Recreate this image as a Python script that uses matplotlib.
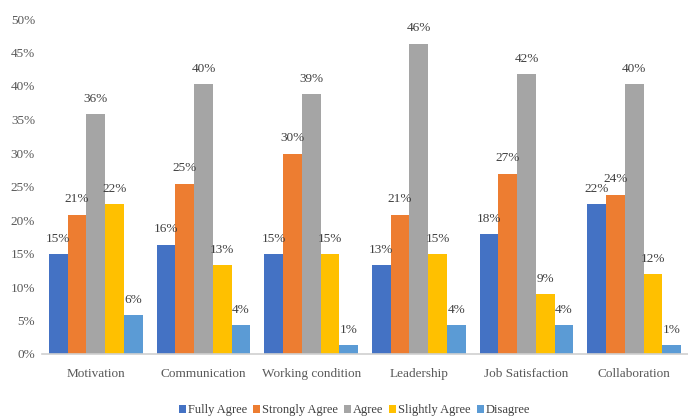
import numpy as np
import matplotlib
matplotlib.use("Agg")
import matplotlib.pyplot as plt

categories = ["Motivation", "Communication", "Working condition",
              "Leadership", "Job Satisfaction", "Collaboration"]
series = ["Fully Agree", "Strongly Agree", "Agree", "Slightly Agree", "Disagree"]

# percentages
fully_agree = [14.9, 16.3, 14.9, 13.3, 17.9, 22.4]
strongly_agree = [20.8, 25.4, 29.9, 20.8, 26.9, 23.8]
agree = [35.8, 40.3, 38.8, 46.3, 41.8, 40.3]
slightly_agree = [22.4, 13.3, 14.9, 14.9, 8.9, 11.9]
disagree = [5.8, 4.3, 1.3, 4.3, 4.3, 1.3]

values = [fully_agree, strongly_agree, agree, slightly_agree, disagree]
colors = ["#4472C4", "#ED7D31", "#A5A5A5", "#FFC000", "#5B9BD5"]

plt.rcParams["font.family"] = ["Liberation Serif", "DejaVu Serif"]
FS = 9

fig = plt.figure(figsize=(6.88, 4.17), dpi=100)
ax = fig.add_axes([42 / 688, 1 - 354 / 417, 646 / 688, (354 - 19) / 417])

x = np.arange(len(categories))
w = 0.174
for i, (name, vals) in enumerate(zip(series, values)):
    pos = x + (i - 2) * w
    ax.bar(pos, vals, width=w, color=colors[i], label=name)
    for xb, v in zip(pos, vals):
        ax.text(xb, v + 1.4, f"{v:.0f}%", ha="center", va="bottom",
                fontsize=FS + 0.5, color="#404040")

ax.set_xlim(-0.5, len(categories) - 0.5)
ax.set_ylim(0, 50)
ax.set_yticks(range(0, 51, 5))
ax.set_yticklabels([f"{t}%" for t in range(0, 51, 5)])
ax.set_xticks(x)
ax.set_xticklabels(categories)
ax.tick_params(axis="both", length=0, labelsize=FS + 0.5, colors="#595959")
ax.tick_params(axis="x", pad=10)
ax.tick_params(axis="y", pad=5)
for s in ["top", "right", "left"]:
    ax.spines[s].set_visible(False)
ax.spines["bottom"].set_color("#D0D0D0")
ax.spines["bottom"].set_linewidth(1.2)

fig.legend(loc="lower center", bbox_to_anchor=(0.515, -0.025), ncol=5,
           frameon=False, fontsize=FS, handlelength=0.55, handleheight=0.55,
           handletextpad=0.15, columnspacing=0.5, labelcolor="#404040")

fig.savefig("out.png", dpi=100)
